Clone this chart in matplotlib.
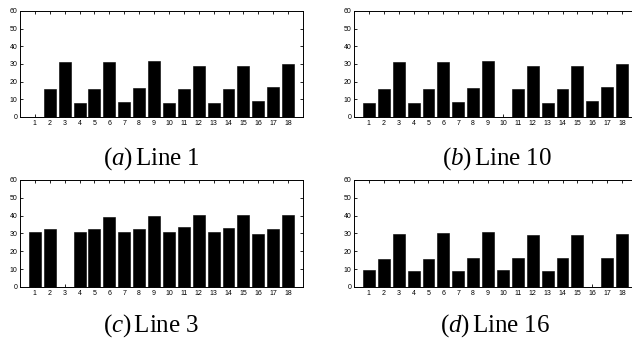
import matplotlib
matplotlib.use("Agg")
import matplotlib.pyplot as plt

plt.rcParams['mathtext.fontset'] = 'custom'
plt.rcParams['mathtext.rm'] = 'Liberation Serif'
plt.rcParams['mathtext.it'] = 'Liberation Serif:italic'
plt.rcParams['font.family'] = 'Liberation Serif'

categories = list(range(1, 19))
yticks = [0, 10, 20, 30, 40, 50, 60]

line1 = [0, 16.0, 30.9, 7.9, 16.0, 31.0, 8.5, 16.4, 31.5, 7.9, 16.0, 28.7, 7.9, 16.0, 28.9, 9.2, 16.8, 29.8]
line10 = [7.7, 16.0, 31.0, 7.9, 16.0, 31.0, 8.5, 16.4, 31.5, 0, 16.0, 28.7, 7.9, 16.0, 28.9, 9.2, 16.8, 29.8]
line3 = [31.1, 32.8, 0, 30.8, 32.8, 39.0, 30.6, 32.8, 39.6, 31.1, 33.4, 40.3, 30.8, 33.2, 40.5, 29.6, 32.4, 40.5]
line16 = [9.4, 15.9, 29.6, 9.2, 15.9, 30.0, 9.2, 16.5, 30.8, 9.4, 16.5, 28.9, 8.8, 16.3, 28.9, 0, 16.5, 29.6]

# (values, caption, axes rect, caption x, caption baseline y)
panels = [
    (line1, r"$(\mathit{a})\,\mathrm{Line\ 1}$", [0.0316, 0.6559, 0.4478, 0.3118], 0.239, 0.515),
    (line10, r"$(\mathit{b})\,\mathrm{Line\ 10}$", [0.5601, 0.6559, 0.4478, 0.3118], 0.786, 0.515),
    (line3, r"$(\mathit{c})\,\mathrm{Line\ 3}$", [0.0316, 0.1559, 0.4478, 0.3147], 0.239, 0.024),
    (line16, r"$(\mathit{d})\,\mathrm{Line\ 16}$", [0.5601, 0.1559, 0.4478, 0.3147], 0.783, 0.024),
]

fig = plt.figure(figsize=(6.32, 3.4), dpi=100)

for vals, caption, rect, cx, cy in panels:
    ax = fig.add_axes(rect)
    ax.bar(categories, vals, width=0.8, color='black', edgecolor='black', linewidth=0.4)
    ax.set_xlim(0, 19)
    ax.set_ylim(0, 60)
    ax.set_xticks(categories)
    ax.set_yticks(yticks)
    ax.tick_params(direction='in', length=2, width=0.6, top=True, right=True,
                   labelsize=5, pad=2)
    for lab in ax.get_xticklabels() + ax.get_yticklabels():
        lab.set_family('Liberation Sans')
    for s in ax.spines.values():
        s.set_linewidth(0.7)
    fig.text(cx, cy, caption, ha='center', va='baseline', fontsize=18)

fig.savefig('out.png', dpi=100)
